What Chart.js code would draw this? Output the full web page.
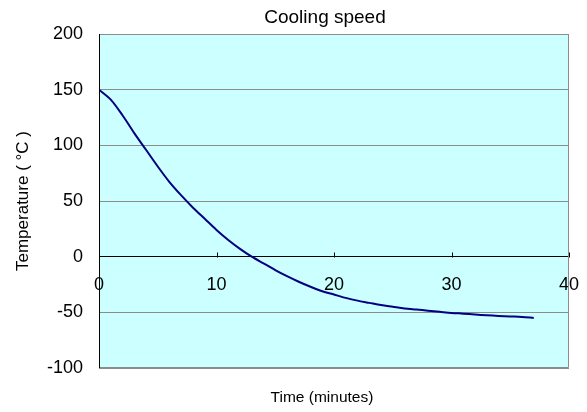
<!DOCTYPE html>
<html>
<head>
<meta charset="utf-8">
<script src="https://cdn.jsdelivr.net/npm/chart.js@4.4.1/dist/chart.umd.min.js"></script>
<style>
  body { margin: 0; background: #fff; }
  #wrap { width: 587px; height: 412px; }
</style>
</head>
<body>
<div id="wrap"><canvas id="coolingChart" width="587" height="412"></canvas></div>
<script>
// Data
const minutes = [0, 1, 2, 3, 4, 5, 6, 7, 8, 9, 10, 11, 12, 13, 14, 15, 16, 17, 18, 19,
  20, 21, 22, 23, 24, 25, 26, 27, 28, 29, 30, 31, 32, 33, 34, 35, 36, 37];
const temperature = [150, 141, 127, 111, 96, 81, 67, 55, 44, 34, 24, 15, 7, 0, -6, -12, -17.5, -22.5, -27, -31,
  -34, -37, -39.5, -41.5, -43.5, -45, -46.5, -47.5, -48.5, -49.5, -50.5, -51.2, -52, -52.6, -53.2, -53.7, -54.2, -55];
const xTicks = [0, 10, 20, 30, 40];
const yTicks = [-100, -50, 0, 50, 100, 150, 200];

const chartTitle = 'Cooling speed';
const xTitle = 'Time (minutes)';
const yTitle = 'Temperature ( °C )';

const FONT = 'Liberation Sans, Arial, sans-serif';

// plot background + frame + tick marks + titles
const decor = {
  id: 'decor',
  beforeDraw(chart) {
    const { ctx, chartArea: a } = chart;
    ctx.save();
    ctx.fillStyle = '#ccffff';
    ctx.fillRect(a.left, a.top, a.right - a.left, a.bottom - a.top);
    ctx.restore();
  },
  afterDatasetsDraw(chart) {
    const { ctx, chartArea: a, scales } = chart;
    ctx.save();
    // gray frame on top / right / bottom
    ctx.strokeStyle = '#8c8c8c';
    ctx.lineWidth = 1;
    ctx.beginPath();
    ctx.moveTo(a.left, a.top + 0.5);
    ctx.lineTo(a.right - 0.5, a.top + 0.5);
    ctx.lineTo(a.right - 0.5, a.bottom - 0.5);
    ctx.lineTo(a.left, a.bottom - 0.5);
    ctx.stroke();
    // black left axis
    ctx.strokeStyle = '#000';
    ctx.beginPath();
    ctx.moveTo(a.left + 0.5, a.top);
    ctx.lineTo(a.left + 0.5, a.bottom);
    ctx.stroke();
    // x tick marks pointing up from the zero line
    const y0 = Math.round(scales.y.getPixelForValue(0)) + 0.5;
    ctx.beginPath();
    xTicks.forEach(v => {
      const px = Math.round(scales.x.getPixelForValue(v)) + 0.5;
      ctx.moveTo(px, y0);
      ctx.lineTo(px, y0 - 5);
    });
    ctx.stroke();
    // titles
    ctx.fillStyle = '#000';
    ctx.textAlign = 'center';
    ctx.textBaseline = 'middle';
    ctx.font = '19px ' + FONT;
    ctx.fillText(chartTitle, 325, 18);
    ctx.font = '15.5px ' + FONT;
    ctx.fillText(xTitle, 322, 398);
    ctx.font = '17px ' + FONT;
    ctx.translate(23, (a.top + a.bottom) / 2);
    ctx.rotate(-Math.PI / 2);
    ctx.fillText(yTitle, 0, 0);
    ctx.restore();
  }
};

new Chart(document.getElementById('coolingChart'), {
  type: 'line',
  data: {
    datasets: [{
      data: minutes.map((m, i) => ({ x: m, y: temperature[i] })),
      borderColor: '#000080',
      borderWidth: 2,
      pointRadius: 0,
      tension: 0.3,
      fill: false
    }]
  },
  options: {
    responsive: false,
    animation: false,
    layout: { padding: { left: 0, right: 18, top: 34, bottom: 44 } },
    plugins: {
      legend: { display: false },
      tooltip: { enabled: false },
      title: { display: false }
    },
    scales: {
      x: {
        type: 'linear',
        position: { y: 0 },
        min: 0,
        max: 40,
        afterBuildTicks: s => { s.ticks = xTicks.map(v => ({ value: v })); },
        afterFit: s => { s.paddingLeft = 0; s.paddingRight = 0; },
        ticks: { color: '#000', font: { family: FONT, size: 18 }, padding: 18, maxRotation: 0, autoSkip: false },
        grid: { display: false, drawTicks: false },
        border: { display: true, color: '#000', width: 1 }
      },
      y: {
        min: -100,
        max: 200,
        afterBuildTicks: s => { s.ticks = yTicks.map(v => ({ value: v })); },
        afterFit: s => { s.width = 99; s.paddingTop = 0; s.paddingBottom = 0; },
        ticks: { color: '#000', font: { family: FONT, size: 18 }, padding: 16 },
        grid: { color: '#8c8c8c', drawTicks: false },
        border: { display: false }
      }
    }
  },
  plugins: [decor]
});
</script>
</body>
</html>
